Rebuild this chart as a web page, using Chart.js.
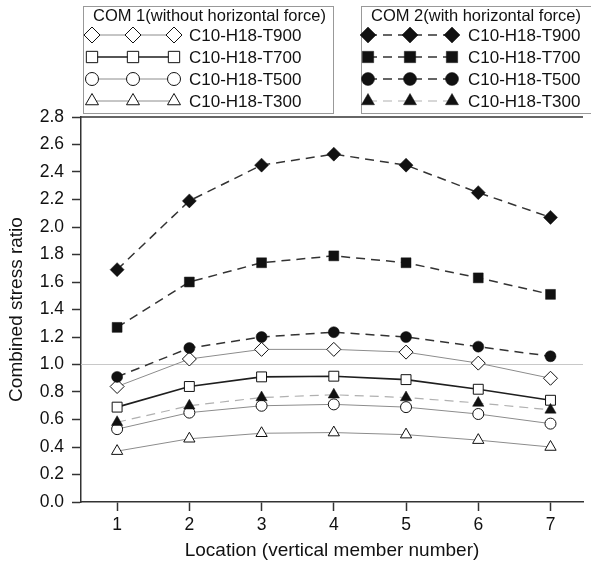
<!DOCTYPE html>
<html>
<head>
<meta charset="utf-8">
<script src="https://cdn.jsdelivr.net/npm/chart.js@4"></script>
<style>
  html, body { margin: 0; padding: 0; background: #fff; }
  #wrap { width: 591px; height: 562px; }
</style>
</head>
<body>
<div id="wrap"><canvas id="chart" width="591" height="562"></canvas></div>
<script>
const locations = [1, 2, 3, 4, 5, 6, 7];
const yTicks = [0, 0.2, 0.4, 0.6, 0.8, 1.0, 1.2, 1.4, 1.6, 1.8, 2.0, 2.2, 2.4, 2.6, 2.8];

// COM 1 (without horizontal force)
const noForceT900 = [0.84, 1.04, 1.11, 1.11, 1.09, 1.01, 0.90];
const noForceT700 = [0.69, 0.84, 0.91, 0.915, 0.89, 0.82, 0.74];
const noForceT500 = [0.53, 0.65, 0.70, 0.71, 0.69, 0.64, 0.57];
const noForceT300 = [0.37, 0.46, 0.50, 0.505, 0.49, 0.45, 0.40];

// COM 2 (with horizontal force)
const forceT900 = [1.69, 2.19, 2.45, 2.53, 2.45, 2.25, 2.07];
const forceT700 = [1.27, 1.60, 1.74, 1.79, 1.74, 1.63, 1.51];
const forceT500 = [0.91, 1.12, 1.20, 1.235, 1.20, 1.13, 1.06];
const forceT300 = [0.58, 0.70, 0.76, 0.78, 0.76, 0.72, 0.67];

const legend1Title = "COM 1(without horizontal force)";
const legend2Title = "COM 2(with horizontal force)";
const seriesNames = ["C10-H18-T900", "C10-H18-T700", "C10-H18-T500", "C10-H18-T300"];

const FONT = "'Liberation Sans', Arial, sans-serif";
const dash = [9, 6];

function pts(values) {
  return values.map((v, i) => ({ x: locations[i], y: v }));
}

function series(label, values, style, open, line) {
  return {
    label,
    data: pts(values),
    pointStyle: style,
    pointRadius: style === "rectRot" ? 7 : style === "rect" ? 7 : style === "triangle" ? 6.5 : 5.5,
    pointBackgroundColor: open ? "#fff" : "#111",
    pointBorderColor: "#111",
    pointBorderWidth: open ? 1 : 0.5,
    borderColor: line.color,
    borderWidth: line.width,
    borderDash: line.dash || [],
    tension: 0,
    fill: false
  };
}

const thinGray = { color: "#8c8c8c", width: 1 };
const blackSolid = { color: "#1e1e1e", width: 1.6 };
const darkDash = { color: "#333", width: 1.5, dash };
const grayDash = { color: "#b0b0b0", width: 1.2, dash };

const datasets = [
  series(seriesNames[0], forceT900, "rectRot", false, darkDash),
  series(seriesNames[1], forceT700, "rect", false, darkDash),
  series(seriesNames[2], forceT500, "circle", false, darkDash),
  series(seriesNames[3], forceT300, "triangle", false, grayDash),
  series(seriesNames[0], noForceT900, "rectRot", true, thinGray),
  series(seriesNames[1], noForceT700, "rect", true, blackSolid),
  series(seriesNames[2], noForceT500, "circle", true, thinGray),
  series(seriesNames[3], noForceT300, "triangle", true, thinGray)
];

// reference line at 1.0 and top frame line
const framePlugin = {
  id: "frame",
  beforeDatasetsDraw(chart) {
    const { ctx, chartArea } = chart;
    const y1 = chart.scales.y.getPixelForValue(1.0);
    ctx.save();
    ctx.strokeStyle = "#c8c8c8";
    ctx.lineWidth = 1;
    ctx.beginPath();
    ctx.moveTo(chartArea.left, y1);
    ctx.lineTo(chartArea.right, y1);
    ctx.stroke();
    ctx.strokeStyle = "#333";
    ctx.lineWidth = 1.5;
    ctx.beginPath();
    ctx.moveTo(chartArea.left, chartArea.top);
    ctx.lineTo(chartArea.right, chartArea.top);
    ctx.stroke();
    ctx.restore();
  }
};

// two boxed legends above the plot
const legendPlugin = {
  id: "boxLegends",
  afterDraw(chart) {
    const ctx = chart.ctx;
    const rowsY = [35, 57, 79, 101];
    const boxes = [
      { x: 83, w: 250, title: legend1Title, sets: datasets.slice(4), marks: [92, 133, 174], textX: 189 },
      { x: 361, w: 235, title: legend2Title, sets: datasets.slice(0, 4), marks: [368, 410, 452], textX: 468 }
    ];
    ctx.save();
    boxes.forEach((b) => {
      ctx.strokeStyle = "#999";
      ctx.lineWidth = 1;
      ctx.strokeRect(b.x + 0.5, 6.5, b.w, 107);
      ctx.fillStyle = "#111";
      ctx.font = "16.5px " + FONT;
      ctx.textBaseline = "middle";
      ctx.textAlign = "left";
      ctx.fillText(b.title, b.x + 10, 16);
      ctx.font = "17px " + FONT;
      b.sets.forEach((ds, i) => {
        const y = rowsY[i];
        ctx.strokeStyle = ds.borderColor;
        ctx.lineWidth = ds.borderWidth;
        ctx.setLineDash(ds.borderDash);
        ctx.beginPath();
        ctx.moveTo(b.marks[0], y);
        ctx.lineTo(b.marks[2], y);
        ctx.stroke();
        ctx.setLineDash([]);
        b.marks.forEach((mx) => {
          ctx.fillStyle = ds.pointBackgroundColor;
          ctx.strokeStyle = "#111";
          ctx.lineWidth = ds.pointBorderWidth;
          Chart.helpers.drawPoint(ctx, {
            pointStyle: ds.pointStyle,
            radius: ds.pointRadius + 1,
            rotation: 0,
            borderWidth: ds.pointBorderWidth
          }, mx, y);
        });
        ctx.fillStyle = "#111";
        ctx.fillText(ds.label, b.textX, y + 1);
      });
    });
    ctx.restore();
  }
};

new Chart(document.getElementById("chart"), {
  type: "line",
  data: { datasets },
  plugins: [framePlugin, legendPlugin],
  options: {
    responsive: false,
    animation: false,
    layout: { padding: { top: 117, right: 0, left: 0, bottom: 0 } },
    plugins: { legend: { display: false }, tooltip: { enabled: false } },
    scales: {
      x: {
        type: "linear",
        min: 0.5,
        max: 7.45,
        afterBuildTicks: (scale) => { scale.ticks = locations.map((v) => ({ value: v })); },
        afterFit: (scale) => { scale.height = 60; },
        grid: { display: true, drawOnChartArea: false, tickLength: 9, color: "#333", tickWidth: 1.5 },
        border: { display: true, color: "#333", width: 1.5 },
        ticks: { color: "#111", font: { family: FONT, size: 17.5 }, padding: 4, maxRotation: 0 },
        title: { display: true, text: "Location (vertical member number)", color: "#111", font: { family: FONT, size: 19 }, padding: { top: 0, bottom: 0 } }
      },
      y: {
        min: 0,
        max: 2.8,
        afterBuildTicks: (scale) => { scale.ticks = yTicks.map((v) => ({ value: v })); },
        afterFit: (scale) => { scale.width = 81; },
        grid: { display: true, drawOnChartArea: false, tickLength: 9, color: "#333", tickWidth: 1.5 },
        border: { display: true, color: "#333", width: 1.5 },
        ticks: { color: "#111", font: { family: FONT, size: 17.5 }, padding: 8, callback: (v) => Number(v).toFixed(1) },
        title: { display: true, text: "Combined stress ratio", color: "#111", font: { family: FONT, size: 19 }, padding: { top: 5, bottom: 0 } }
      }
    }
  }
});
</script>
</body>
</html>
